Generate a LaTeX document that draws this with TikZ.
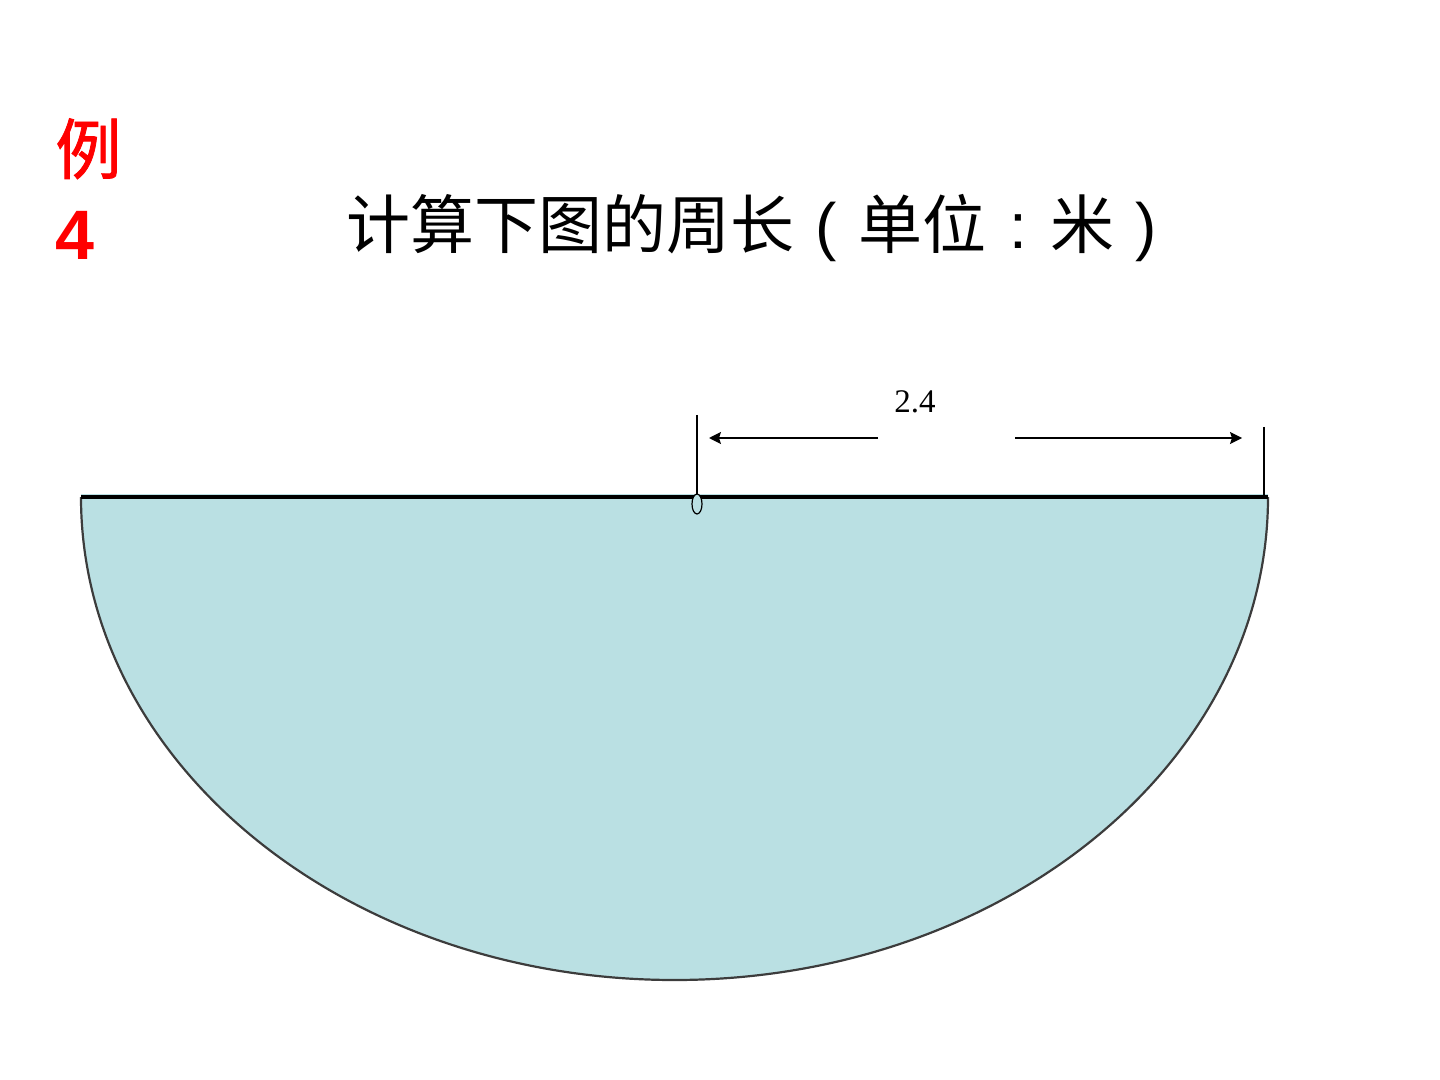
\documentclass[tikz,border=0pt]{standalone}
\usepackage{fontspec}
\setmainfont{Liberation Serif}
\newfontfamily\cjk{Noto Sans CJK SC}
\newfontfamily\cjkmid[FakeBold=1.2]{Noto Sans CJK SC}
\newfontfamily\arialfont{Liberation Sans}
\newfontfamily\arialbold{Liberation Sans Bold}
\usetikzlibrary{arrows.meta}
\definecolor{pondblue}{RGB}{186,224,227}
\definecolor{rimgray}{RGB}{60,60,60}
\newcommand{\wpunct}[1]{\makebox[1em][c]{\arialfont #1}}

\begin{document}
\begin{tikzpicture}[x=0.5pt,y=-0.5pt]
  \useasboundingbox (0,0) rectangle (1440,1080);
  % Heading
  \node[anchor=north west, inner sep=0pt, align=left, text=red,
        font=\fontsize{33}{44}\selectfont] (ex) at (55,118)
        {\cjkmid 例\\[-1pt]{\arialbold\fontsize{35}{44}\selectfont 4}};
  \node[font=\cjk\fontsize{32}{36}\selectfont, inner sep=0pt] (title) at (762,228)
        {计算下图的周长\wpunct{(}单位\wpunct{:}米\wpunct{)}};

  % Half disc
  \coordinate (l) at (81,497);
  \coordinate (r) at (1268,497);
  \coordinate (o) at (697,497);
  \fill[pondblue] (81,494) -- (1268,494) -- (r)
        arc[start angle=0, end angle=180, x radius=593.5, y radius=483] -- cycle;
  \draw[rimgray, line width=1.1pt] (l)
        arc[start angle=180, end angle=0, x radius=593.5, y radius=483];
  \draw[line width=1.6pt] (l) -- (r);

  % Radius marks
  \coordinate (ot) at (697,415);
  \coordinate (rt) at (1264,427);
  \coordinate (rb) at (1264,495);
  \draw[line width=0.6pt] (ot) -- (o);
  \draw[line width=0.6pt] (rt) -- (rb);
  \draw[line width=0.6pt, fill=pondblue] (697,504) ellipse[x radius=5, y radius=10];

  \node[font=\fontsize{16.5}{20}\selectfont, inner sep=0pt] (len) at (915,402) {2.4};
  \coordinate (la) at (878,438);
  \coordinate (lb) at (709,438);
  \coordinate (ra) at (1015,438);
  \coordinate (rb2) at (1242,438);
  \draw[line width=0.7pt, -{Stealth[length=6pt,width=6pt,inset=1pt]}] (la) -- (lb);
  \draw[line width=0.7pt, -{Stealth[length=6pt,width=6pt,inset=1pt]}] (ra) -- (rb2);
\end{tikzpicture}
\end{document}
